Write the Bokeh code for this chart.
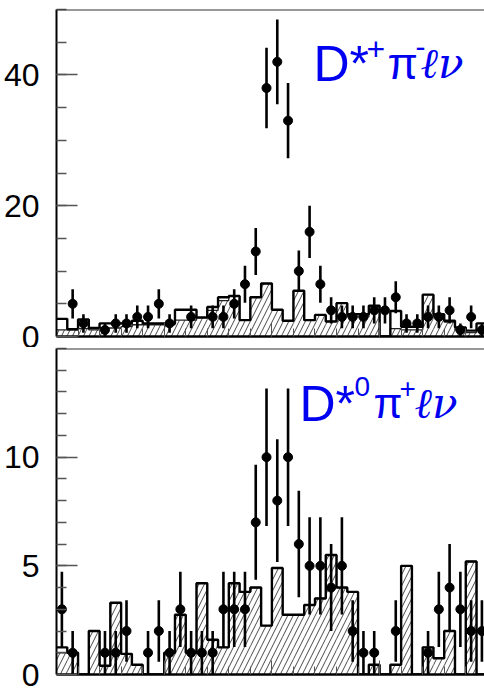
import numpy as np
from bokeh.plotting import figure
from bokeh.layouts import column
from bokeh.models import FixedTicker, Span, Label, CustomJSTickFormatter
from bokeh.embed import file_html
from bokeh.resources import INLINE

# ---- data (40 bins) ----
bin_edges = list(range(41))

top_counts = [0, 5, 2, 0, 1, 2, 2, 3, 3, 5, 2, 0, 3, 0, 3, 3, 5, 8, 13, 38,
              42, 33, 10, 16, 8, 4, 3, 3, 3, 4, 4, 6, 2, 2, 3, 3, 4, 1, 3, 1]
top_total = [2.7, 1.1, 2.6, 1.3, 2.0, 2.0, 2.0, 2.4, 2.0, 2.0, 2.0, 4.1, 4.1, 2.9, 4.5, 6.0, 6.2, 2.5, 6.0, 8.1,
             4.1, 2.4, 7.0, 2.5, 3.3, 2.3, 5.1, 3.4, 3.4, 4.7, 0.0, 3.9, 1.5, 1.5, 6.4, 3.4, 2.4, 1.4, 0.9, 2.0]
top_hatch = [1.0, 1.0, 1.2, 1.0, 1.3, 1.3, 1.5, 1.8, 1.8, 1.8, 1.8, 2.5, 2.5, 2.9, 4.0, 5.5, 6.2, 2.5, 6.0, 8.1,
             4.1, 2.4, 7.0, 2.5, 3.3, 2.3, 5.1, 3.0, 3.0, 4.7, 0.0, 1.2, 1.0, 1.0, 6.4, 3.0, 2.2, 1.0, 0.6, 1.0]

bot_counts = [3, 1, 0, 0, 1, 1, 2, 0, 1, 2, 1, 3, 1, 1, 1, 3, 3, 3, 7, 10,
              8, 10, 6, 5, 5, 4, 5, 2, 1, 1, 0, 2, 0, 0, 1, 3, 4, 3, 2, 2]
bot_total = [1.25, 1.0, 0.0, 2.0, 0.4, 3.3, 0.95, 0.45, 0.0, 0.0, 1.0, 2.75, 1.0, 4.2, 1.6, 1.25, 4.2, 3.8, 4.0, 2.25,
             4.9, 2.75, 2.75, 3.2, 3.5, 5.5, 4.0, 3.8, 0.0, 0.45, 0.0, 0.45, 5.0, 0.0, 1.25, 0.75, 2.0, 0.0, 5.2, 0.0]
bot_hatch = [1.0, 1.0, 0.0, 2.0, 0.4, 3.3, 0.95, 0.45, 0.0, 0.0, 1.0, 2.75, 1.0, 4.2, 1.6, 1.25, 4.2, 3.8, 4.0, 2.25,
             4.9, 2.75, 2.75, 3.2, 3.5, 5.5, 4.0, 3.8, 0.0, 0.45, 0.0, 0.45, 5.0, 0.0, 1.25, 0.75, 2.0, 0.0, 5.2, 0.0]

top_ticks = [0, 20, 40]
top_minor = [0, 5, 10, 15, 20, 25, 30, 35, 40, 45, 50]
bot_ticks = [0, 5, 10]
bot_minor = list(range(0, 16))

LABEL_FONT = "Liberation Sans Narrow, Liberation Sans"
BLUE = "#0000f0"


def panel(counts, total, hatch, ymax, ticks, minor, height, btop, bbot):
    p = figure(width=484, height=height, x_range=(0, 39.74), y_range=(0, ymax),
               output_backend="svg", toolbar_location=None,
               min_border_left=56, min_border_right=0,
               min_border_top=btop, min_border_bottom=bbot)
    p.outline_line_color = None
    p.background_fill_color = "white"
    p.border_fill_color = "white"
    p.xgrid.visible = False
    p.ygrid.visible = False

    edges = np.array(bin_edges, dtype=float)
    left = edges[:-1]
    right = edges[1:]
    centers = (left + right) / 2.0

    # hatched component
    p.quad(left=left, right=right, bottom=0, top=hatch, fill_color=None, line_color=None,
           hatch_pattern="/", hatch_color="#333333", hatch_weight=0.9, hatch_scale=11)
    p.step(x=edges, y=list(hatch) + [hatch[-1]], mode="after", line_color="#222222", line_width=1.3)
    # total outline
    p.step(x=edges, y=list(total) + [total[-1]], mode="after", line_color="black", line_width=2.4)

    # data points with Poisson errors
    c = np.array(counts, dtype=float)
    m = c > 0
    err = np.sqrt(c[m])
    p.segment(x0=centers[m], y0=c[m] - err, x1=centers[m], y1=c[m] + err,
              line_color="black", line_width=2.6)
    p.scatter(centers[m], c[m], size=9, marker="circle", color="black")

    # axes
    ya = p.yaxis[0]
    ya.ticker = FixedTicker(ticks=ticks, minor_ticks=minor)
    ya.axis_line_width = 2
    ya.axis_line_color = "black"
    ya.major_tick_in = 21
    ya.major_tick_out = 0
    ya.minor_tick_in = 10
    ya.minor_tick_out = 0
    ya.major_tick_line_width = 1.5
    ya.minor_tick_line_width = 1.5
    ya.major_tick_line_color = "#555555"
    ya.minor_tick_line_color = "#555555"
    ya.major_label_standoff = 17
    ya.major_label_text_font = LABEL_FONT
    ya.major_label_text_font_size = "32px"
    ya.major_label_text_color = "black"

    xa = p.xaxis[0]
    xa.ticker = FixedTicker(ticks=[0, 10, 20, 30, 40], minor_ticks=list(range(0, 41, 2)))
    xa.axis_line_width = 2.5
    xa.axis_line_color = "black"
    xa.major_tick_in = 14
    xa.major_tick_out = 0
    xa.minor_tick_in = 8
    xa.minor_tick_out = 0
    xa.major_tick_line_color = "#555555"
    xa.minor_tick_line_color = "#555555"
    xa.formatter = CustomJSTickFormatter(code="return ''")
    xa.major_label_text_font_size = "10px"
    xa.major_label_standoff = 0

    p.add_layout(Span(location=ymax, dimension="width", line_color="#333333", line_width=2))
    return p


p1 = panel(top_counts, top_total, top_hatch, 50, top_ticks, top_minor, 347, 9, 11)
p2 = panel(bot_counts, bot_total, bot_hatch, 15, bot_ticks, bot_minor, 341, 1, 14)


def lab(p, text, sx, sy, size, italic=False, font="Liberation Sans"):
    p.add_layout(Label(x=sx, y=sy, x_units="screen", y_units="screen", text=text,
                       text_font=font, text_font_size=size, text_color=BLUE,
                       text_font_style="italic" if italic else "normal",
                       text_align="left", text_baseline="alphabetic"))


# top label: D*+ pi- l nu
lab(p1, "D*", 257, 273, "50px")
lab(p1, "+", 310, 288, "32px")
lab(p1, "π", 331, 273, "44px")
lab(p1, "-", 359, 290, "30px")
lab(p1, "ℓν", 364, 273, "42px", italic=True, font="DejaVu Serif")

# bottom label: D*0 pi+ l nu
lab(p2, "D*", 243, 271, "50px")
lab(p2, "0", 298, 288, "28px")
lab(p2, "π", 317, 271, "42px")
lab(p2, "+", 343, 286, "28px")
lab(p2, "ℓν", 358, 271, "42px", italic=True, font="DejaVu Serif")

layout = column(p1, p2, spacing=0)
open("out.html", "w").write(file_html(layout, INLINE))
